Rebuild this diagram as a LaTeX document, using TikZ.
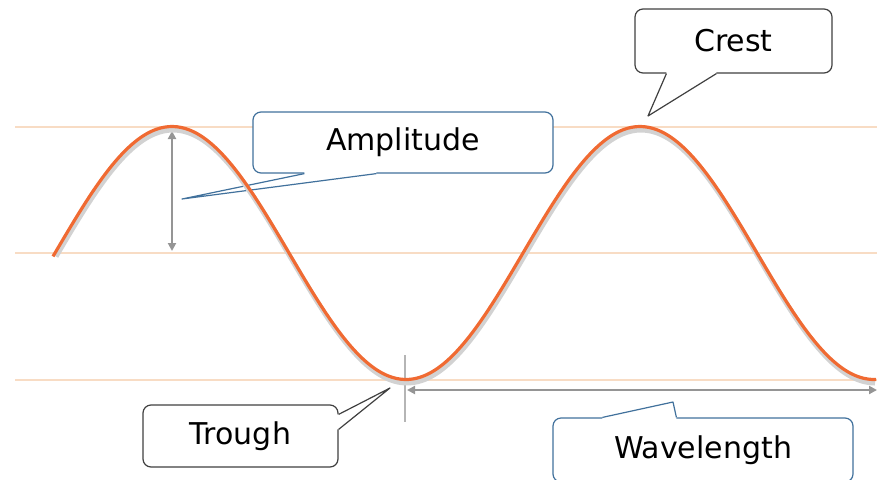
\documentclass[tikz,border=0pt]{standalone}
\usepackage{fontspec}
\newfontfamily\calloutfont{DejaVu Sans}
\usetikzlibrary{arrows.meta,calc}

\definecolor{waveorange}{HTML}{F06A32}
\definecolor{levelpeach}{HTML}{F8DCC4}
\definecolor{markgray}{HTML}{959595}
\definecolor{shadowgray}{HTML}{D2D2D2}
\definecolor{calloutblue}{HTML}{41719C}
\definecolor{calloutdark}{HTML}{404040}

\begin{document}
\begin{tikzpicture}[
  x=1pt,
  y=-1pt,
  line join=round,
  level/.style={draw=levelpeach,line width=1.5pt},
  wave/.style={draw=waveorange,line width=3.2pt},
  waveshadow/.style={draw=shadowgray,line width=5pt},
  measure/.style={draw=markgray,line width=2.5pt,
    {Triangle[length=8pt,width=8pt]}-{Triangle[length=8pt,width=8pt]}},
  tickline/.style={draw=markgray!70,line width=1.5pt},
  callout/.style={draw=#1,fill=white,line width=1.2pt,rounded corners=8pt,
    inner sep=0pt,font=\calloutfont\fontsize{30}{36}\selectfont},
  pointer/.style={draw=#1,line width=1.2pt}
]
  % Match the artwork frame.
  \useasboundingbox (0,0) rectangle (877,479);

  % Crest, rest and trough levels.
  \draw[level] (15,127) -- (877,127);
  \draw[level] (15,253) -- (877,253);
  \draw[level] (15,380) -- (877,380);

  % Amplitude and wavelength markers.
  \coordinate (amptop) at (172,131);
  \coordinate (ampbot) at (172,251);
  \coordinate (troughtop) at (405,355);
  \coordinate (troughbot) at (405,422);
  \coordinate (wlstart) at (407,390);
  \coordinate (wlend) at (877,390);
  \draw[measure] (amptop) -- (ampbot);
  \draw[tickline] (troughtop) -- (troughbot);
  \draw[measure] (wlstart) -- (wlend);

  % Callout boxes.
  \node[callout=calloutblue,minimum width=300pt,minimum height=61pt] (amp) at (403,142.5) {Amplitude};
  \node[callout=calloutdark,minimum width=197pt,minimum height=64pt] (crest) at (733.5,41) {Crest};
  \node[callout=calloutdark,minimum width=195pt,minimum height=62pt] (trough) at (240.5,436) {Trough};
  \node[callout=calloutblue,minimum width=300pt,minimum height=64pt] (wavelen) at (703,450) {Wavelength};

  % Callout pointers: base points on the box edge, then the tip.
  \coordinate (ab1) at ($(amp.south west)+(52,0)$);
  \coordinate (ab2) at ($(amp.south west)+(124,0)$);
  \coordinate (atip) at (182,199);
  \fill[white] (ab1) -- (atip) -- (ab2) -- ($(ab2)+(0,-3)$) -- ($(ab1)+(0,-3)$) -- cycle;
  \draw[pointer=calloutblue] (ab1) -- (atip) -- (ab2);

  \coordinate (cb1) at ($(crest.south west)+(32,0)$);
  \coordinate (cb2) at ($(crest.south west)+(82,0)$);
  \coordinate (ctip) at (648,116);
  \fill[white] (cb1) -- (ctip) -- (cb2) -- ($(cb2)+(0,-3)$) -- ($(cb1)+(0,-3)$) -- cycle;
  \draw[pointer=calloutdark] (cb1) -- (ctip) -- (cb2);

  \coordinate (tb1) at ($(trough.north east)+(0,10)$);
  \coordinate (tb2) at ($(trough.north east)+(0,25)$);
  \coordinate (ttip) at (390,388);
  \fill[white] (tb1) -- (ttip) -- (tb2) -- ($(tb2)+(-3,0)$) -- ($(tb1)+(-3,0)$) -- cycle;
  \draw[pointer=calloutdark] (tb1) -- (ttip) -- (tb2);

  \coordinate (wb1) at ($(wavelen.north west)+(50,0)$);
  \coordinate (wb2) at ($(wavelen.north west)+(124,0)$);
  \coordinate (wtip) at (673,402);
  \fill[white] (wb1) -- (wtip) -- (wb2) -- ($(wb2)+(0,3)$) -- ($(wb1)+(0,3)$) -- cycle;
  \draw[pointer=calloutblue] (wb1) -- (wtip) -- (wb2);

  % The wave itself, with its soft gray shadow.
  \draw[waveshadow,shift={(1,3.5)}] plot[domain=55:874,samples=200,smooth]
    (\x,{253-126.5*cos((\x-172)/468*360)});
  \draw[wave] plot[domain=53:876,samples=200,smooth]
    (\x,{253-126.5*cos((\x-172)/468*360)});
\end{tikzpicture}
\end{document}
